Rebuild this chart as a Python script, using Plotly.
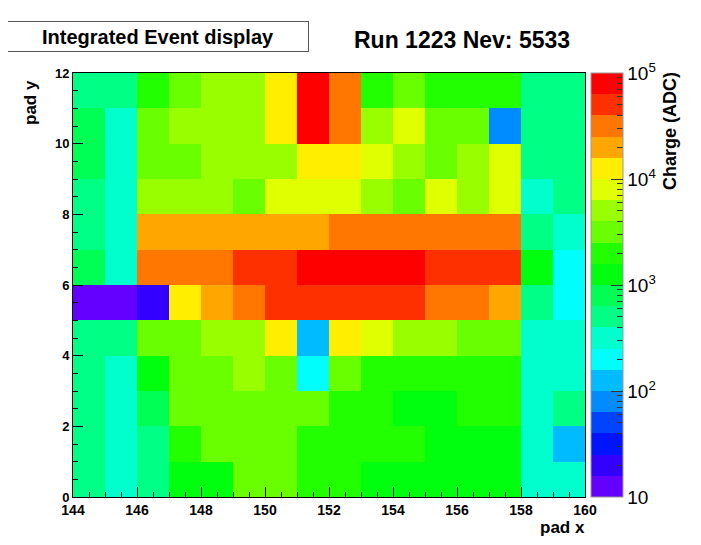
import math
import plotly.graph_objects as go

# pad coordinates (lower edges of each pad)
pad_x = [144, 145, 146, 147, 148, 149, 150, 151, 152, 153, 154, 155, 156, 157, 158, 159]
pad_y = [0, 1, 2, 3, 4, 5, 6, 7, 8, 9, 10, 11]

# integrated charge (ADC), rows from pad y = 0 (bottom) to 11 (top)
charge_y0 = [500, 320, 500, 1250, 1250, 3200, 3200, 2000, 2000, 1250, 1250, 1250, 1250, 1250, 320, 320]
charge_y1 = [500, 320, 500, 2000, 3200, 3200, 3200, 2000, 2000, 2000, 2000, 1250, 1250, 1250, 320, 125]
charge_y2 = [500, 320, 800, 3200, 3200, 3200, 3200, 3200, 2000, 2000, 1250, 1250, 2000, 2000, 320, 500]
charge_y3 = [500, 320, 1250, 3200, 3200, 5000, 3200, 200, 3200, 2000, 2000, 2000, 2000, 2000, 320, 320]
charge_y4 = [500, 500, 3200, 3200, 5000, 5000, 12500, 125, 12500, 8000, 5000, 5000, 3200, 3200, 320, 320]
charge_y5 = [13, 13, 20, 12500, 20000, 32000, 50000, 50000, 50000, 50000, 50000, 32000, 32000, 20000, 500, 200]
charge_y6 = [800, 320, 32000, 32000, 32000, 50000, 50000, 80000, 80000, 80000, 80000, 50000, 50000, 50000, 1250, 200]
charge_y7 = [500, 320, 20000, 20000, 20000, 20000, 20000, 20000, 32000, 32000, 32000, 32000, 32000, 32000, 500, 320]
charge_y8 = [500, 320, 5000, 5000, 5000, 3200, 8000, 8000, 8000, 5000, 3200, 8000, 5000, 8000, 320, 500]
charge_y9 = [800, 320, 3200, 3200, 5000, 5000, 5000, 12500, 12500, 8000, 5000, 3200, 5000, 8000, 500, 500]
charge_y10 = [800, 320, 3200, 5000, 5000, 5000, 12500, 80000, 32000, 5000, 8000, 3200, 3200, 80, 500, 500]
charge_y11 = [500, 500, 2000, 3200, 5000, 5000, 12500, 80000, 32000, 2000, 3200, 2000, 2000, 2000, 500, 500]

charge = [charge_y0, charge_y1, charge_y2, charge_y3, charge_y4, charge_y5,
          charge_y6, charge_y7, charge_y8, charge_y9, charge_y10, charge_y11]

# colour scale: 10 .. 1e5 ADC, 20 log contours (ROOT "pretty" palette)
z_min_exp = 1
z_max_exp = 5
n_contours = 20
cbar_major = [1, 2, 3, 4, 5]
cbar_major_text = ["10", "10<sup>2</sup>", "10<sup>3</sup>", "10<sup>4</sup>", "10<sup>5</sup>"]
x_ticks = [144, 146, 148, 150, 152, 154, 156, 158, 160]
y_ticks = [0, 2, 4, 6, 8, 10, 12]


def hls_to_rgb(h, l, s):
    def f(n):
        k = (n + h / 30.0) % 12
        a = s * min(l, 1 - l)
        return l - a * max(-1, min(k - 3, 9 - k, 1))
    return int(round(f(0) * 255)), int(round(f(8) * 255)), int(round(f(4) * 255))


# ROOT palette 51..100 and contour colour selection
palette = []
for i in range(50):
    hue = 280 - (i + 1) * (280.0 / 50)
    palette.append(hls_to_rgb(hue, 0.5, 1.0))
colorscale = []
for k in range(n_contours):
    idx = int((k + 0.99) * 50 / n_contours)
    r, g, b = palette[idx]
    c = f"rgb({r},{g},{b})"
    colorscale.append([k / n_contours, c])
    colorscale.append([(k + 1) / n_contours, c])

z = [[math.log10(v) for v in row] for row in charge]
xc = [p + 0.5 for p in pad_x]
yc = [p + 0.5 for p in pad_y]

minor_vals = []
for d in range(z_min_exp, z_max_exp):
    for m in range(2, 10):
        minor_vals.append(math.log10(m * 10 ** d))

# page has an 8px body margin; figure is laid out so the plot lands where the reference has it
W, H = 693, 537
L, T, PW, PH = 65, 65, 512, 424


def px(xp):
    return (xp - 8 - L) / PW


def py(yp):
    return 1 - (yp - 8 - T) / PH


cb_common = dict(
    x=px(591), xanchor="left", xpad=0, ypad=0,
    y=0.5, yanchor="middle", len=1, lenmode="fraction",
    thickness=32, thicknessmode="pixels",
    tickmode="array", ticks="inside", tickcolor="#333",
)

fig = go.Figure()
fig.add_trace(go.Heatmap(
    x=xc, y=yc, z=z, zmin=z_min_exp, zmax=z_max_exp,
    colorscale=colorscale, hoverinfo="skip",
    colorbar=dict(**cb_common, tickvals=minor_vals, ticktext=[""] * len(minor_vals),
                  ticklen=6, tickwidth=1, outlinewidth=1, outlinecolor="#999"),
))
fig.add_trace(go.Heatmap(
    x=[xc[0]], y=[yc[0]], z=[[3]], zmin=z_min_exp, zmax=z_max_exp,
    colorscale=[[0, "rgba(0,0,0,0)"], [1, "rgba(0,0,0,0)"]], hoverinfo="skip",
    colorbar=dict(**cb_common, tickvals=cbar_major, ticktext=cbar_major_text,
                  ticklen=12, tickwidth=1, outlinewidth=0,
                  tickfont=dict(family="Liberation Sans", size=19, color="black")),
))

axis_font = dict(family="Liberation Sans", size=14, color="black", weight="bold")
fig.update_xaxes(
    range=[144, 160], tickmode="array", tickvals=x_ticks, ticks="inside", ticklen=10,
    tickcolor="black", tickfont=axis_font, showline=True, linecolor="black", linewidth=1,
    mirror=True, showgrid=False, zeroline=False,
    minor=dict(dtick=0.5, ticks="inside", ticklen=5, tickcolor="black", showgrid=False),
)
fig.update_yaxes(
    range=[0, 12], tickmode="array", tickvals=y_ticks, ticks="inside", ticklen=10,
    tickcolor="black", tickfont=dict(family="Liberation Sans", size=13, color="black", weight="bold"),
    showline=True, linecolor="black", linewidth=1,
    mirror=True, showgrid=False, zeroline=False,
    minor=dict(dtick=0.5, ticks="inside", ticklen=5, tickcolor="black", showgrid=False),
)

fig.update_layout(
    width=W, height=H,
    margin=dict(l=L, r=W - L - PW, t=T, b=H - T - PH),
    paper_bgcolor="white", plot_bgcolor="white",
    showlegend=False,
    annotations=[
        dict(text="Integrated Event display", xref="paper", yref="paper",
             x=px(158), y=py(37), xanchor="center", yanchor="middle",
             showarrow=False, bordercolor="#555", borderwidth=1, borderpad=3,
             bgcolor="white", width=294, height=23,
             font=dict(family="Liberation Sans", size=20, color="black", weight="bold")),
        dict(text="Run 1223 Nev: 5533", xref="paper", yref="paper",
             x=px(352), y=py(40), xanchor="left", yanchor="middle",
             showarrow=False,
             font=dict(family="Liberation Sans", size=23, color="black", weight="bold")),
        dict(text="pad y", xref="paper", yref="paper",
             x=px(30), y=py(103), xanchor="center", yanchor="middle",
             textangle=-90, showarrow=False,
             font=dict(family="Liberation Sans", size=17, color="black", weight="bold")),
        dict(text="pad x", xref="paper", yref="paper",
             x=px(587), y=py(527), xanchor="right", yanchor="middle",
             showarrow=False,
             font=dict(family="Liberation Sans", size=17, color="black", weight="bold")),
        dict(text="Charge (ADC)", xref="paper", yref="paper",
             x=px(670), y=py(70), xanchor="center", yanchor="top",
             textangle=-90, showarrow=False,
             font=dict(family="Liberation Sans", size=18, color="black", weight="bold")),
    ],
)

fig.write_html("out.html")
